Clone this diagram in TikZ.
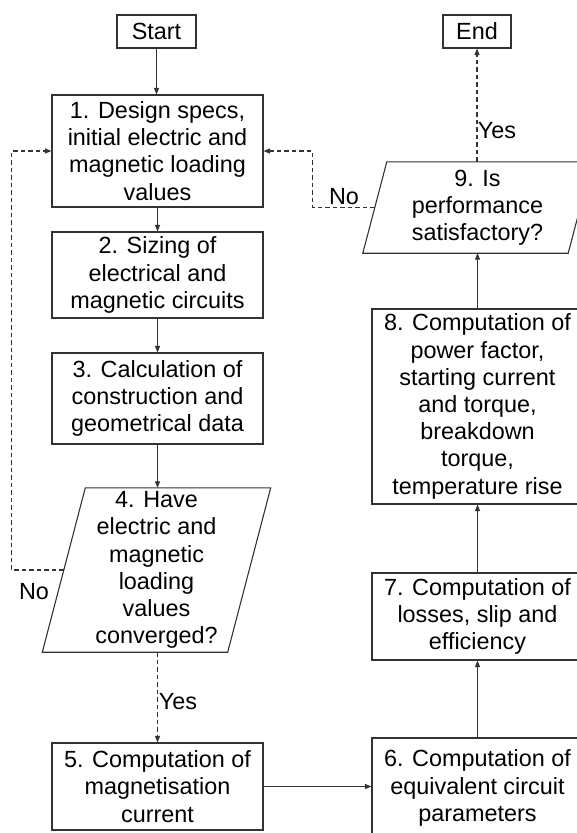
\documentclass[tikz,border=0pt]{standalone}
\usepackage{fontspec}
\setmainfont{Liberation Sans}
\usetikzlibrary{arrows.meta,calc}
\begin{document}
\begin{tikzpicture}[x=1pt,y=-1pt,
  every node/.style={font=\fontsize{23.4}{27.2}\selectfont, text=black},
  stepbox/.style={draw=black!80, line width=1.1pt, inner sep=0pt, align=center, minimum width=211pt},
  termbox/.style={draw=black!80, line width=1.1pt, inner sep=0pt, align=center, minimum height=33pt},
  decbox/.style={inner sep=0pt, align=center},
  paraline/.style={draw=black!80, line width=1.1pt, line join=miter},
  flow/.style={draw=black!80, line width=1.1pt, -{Triangle[length=6.5pt,width=5pt]}},
  dflow/.style={flow, dash pattern=on 4.5pt off 3pt},
  lbl/.style={inner sep=0pt}]
\useasboundingbox (0,0) rectangle (577,833);

% left column
\node[termbox, minimum width=79pt] (start) at (156.5,31.5) {Start};
\node[stepbox, minimum height=112pt] (b1) at (157.5,151) {1. Design specs,\\initial electric and\\magnetic loading\\values};
\node[stepbox, minimum height=86pt] (b2) at (157.5,275) {2. Sizing of\\electrical and\\magnetic circuits};
\node[stepbox, minimum height=91pt] (b3) at (157.5,398.5) {3. Calculation of\\construction and\\geometrical data};
\node[decbox, minimum width=185pt, minimum height=164pt] (d4) at (156.5,570) {4. Have\\electric and\\magnetic\\loading\\values\\converged?};
\draw[paraline] ([xshift=21.5pt]d4.north west) -- ([xshift=21.5pt]d4.north east)
  -- ([xshift=-21.5pt]d4.south east) -- ([xshift=-21.5pt]d4.south west) -- cycle;
\node[stepbox, minimum height=87pt] (b5) at (157.5,786.5) {5. Computation of\\magnetisation\\current};

% right column
\node[stepbox, minimum height=100pt] (b6) at (477.5,788) {6. Computation of\\equivalent circuit\\parameters};
\node[stepbox, minimum height=87pt] (b7) at (477.5,616.5) {7. Computation of\\losses, slip and\\efficiency};
\node[stepbox, minimum height=195pt] (b8) at (477.5,406.5) {8. Computation of\\power factor,\\starting current\\and torque,\\breakdown\\torque,\\temperature rise};
\node[decbox, minimum width=205pt, minimum height=91pt] (d9) at (477.5,207.5) {9. Is\\performance\\satisfactory?};
\draw[paraline] ([xshift=12pt]d9.north west) -- ([xshift=12pt]d9.north east)
  -- ([xshift=-12pt]d9.south east) -- ([xshift=-12pt]d9.south west) -- cycle;
\node[termbox, minimum width=68pt] (end) at (477,31.5) {End};

% labels
\node[lbl] (no1) at (34,592) {No};
\node[lbl] (yes1) at (178,702) {Yes};
\node[lbl] (no2) at (344,197) {No};
\node[lbl] (yes2) at (497,131) {Yes};

% connectors
\draw[flow] (start.south) -- (start.south |- b1.north);
\draw[flow] (b1.south) -- (b2.north);
\draw[flow] (b2.south) -- (b3.north);
\draw[flow] (b3.south) -- (b3.south |- d4.north);
\draw[dflow] (b3.south |- d4.south) -- (b5.north);
\draw[flow] (b5.east) -- (b5.east -| b6.west);
\draw[flow] (b7.south |- b6.north) -- (b7.south);
\draw[flow] (b7.north) -- (b8.south);
\draw[flow] (b8.north) -- (b8.north |- d9.south);
\draw[dflow] (end.south |- d9.north) -- (end.south);
\draw[dflow] (d4.west) -- ++(-52,0) |- (b1.west);
\draw[dflow] (d9.west) -- ++(-62,0) |- (b1.east);
\end{tikzpicture}
\end{document}
